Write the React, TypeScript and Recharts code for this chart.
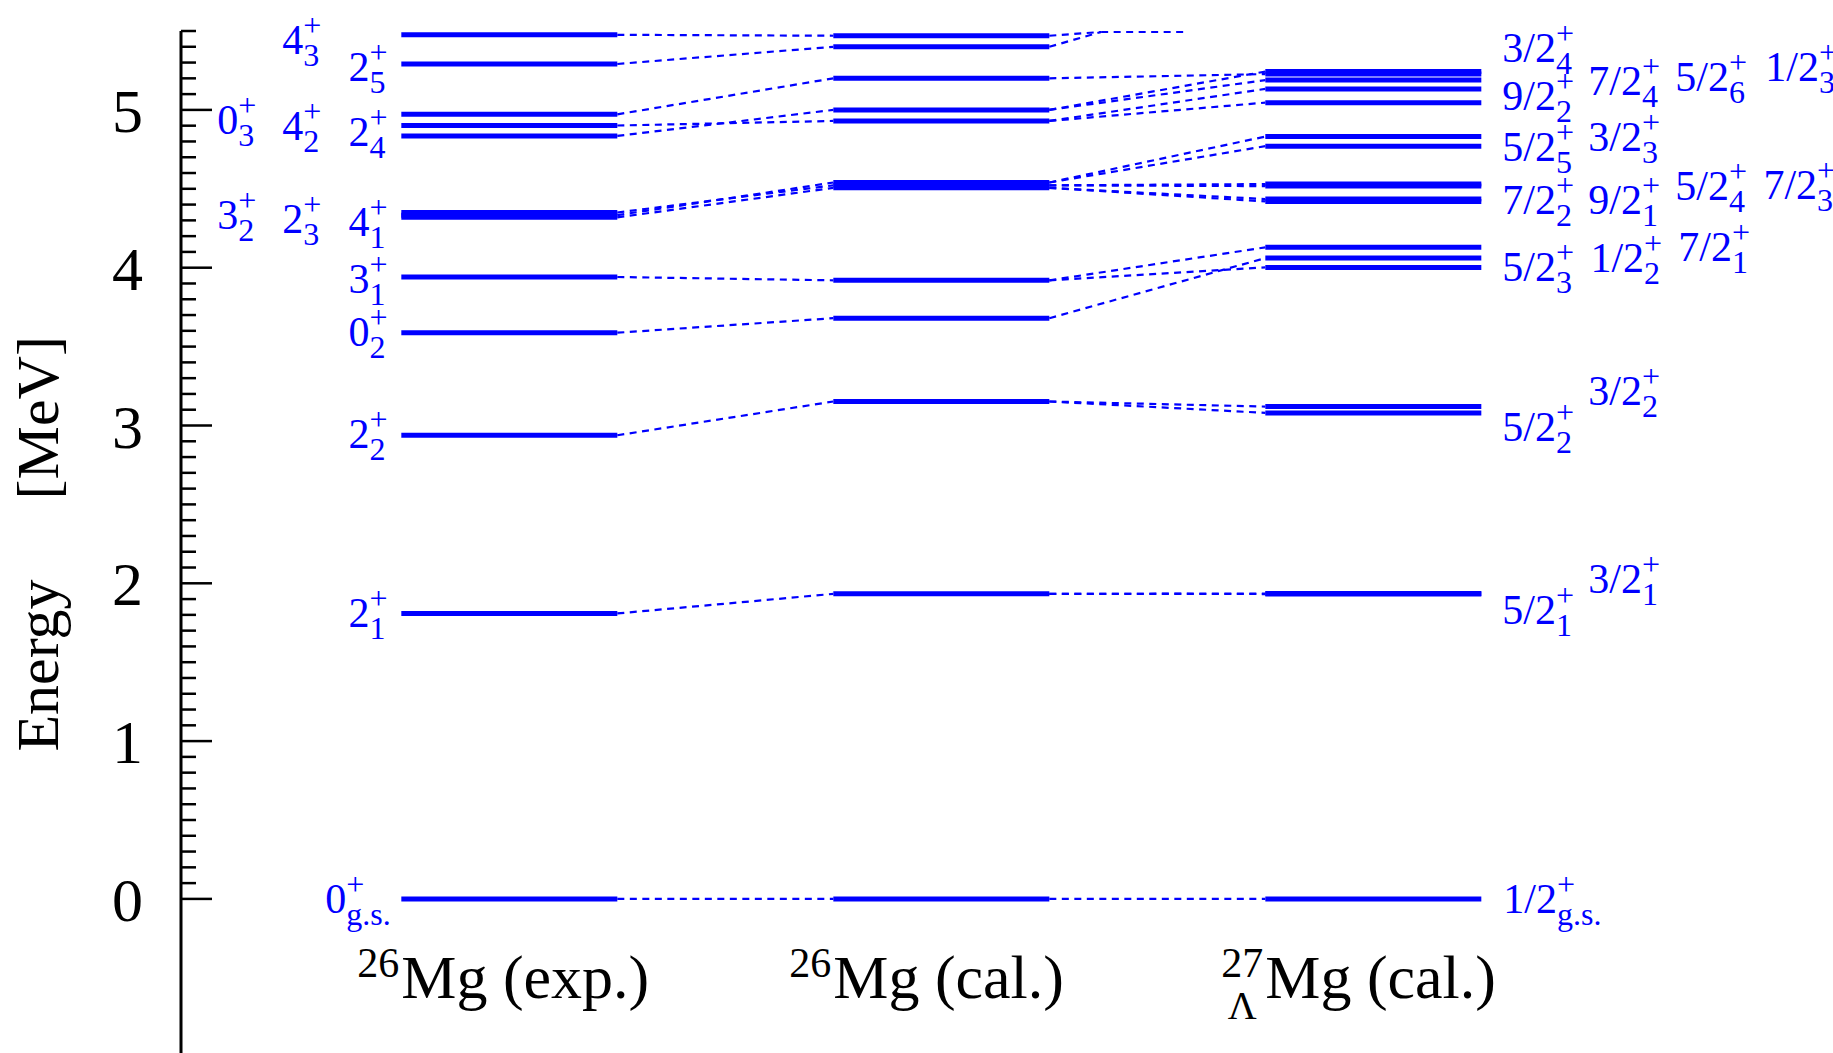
import { LineChart, Line, XAxis, YAxis, ReferenceLine, ReferenceDot } from 'recharts';

const BLUE = '#0000ff';
const SERIF = '"Liberation Serif", "Times New Roman", Times, serif';

type Level = [string, number];

// 26Mg measured levels, MeV
const EXP_26MG: Level[] = [
  ['0gs', 0], ['2_1', 1.809], ['2_2', 2.938], ['0_2', 3.588], ['3_1', 3.941],
  ['4_1', 4.319], ['2_3', 4.333], ['3_2', 4.35], ['2_4', 4.835], ['4_2', 4.901],
  ['0_3', 4.972], ['2_5', 5.291], ['4_3', 5.476],
];

// 26Mg calculated levels, MeV
const CAL_26MG: Level[] = [
  ['0gs', 0], ['2_1', 1.933], ['2_2', 3.152], ['0_2', 3.68], ['3_1', 3.92],
  ['4_1', 4.506], ['3_2', 4.522], ['2_3', 4.54], ['4_2', 4.93], ['2_4', 5.0],
  ['0_3', 5.2], ['2_5', 5.4], ['4_3', 5.47],
];

// 27-Lambda-Mg calculated levels, MeV
const CAL_27MG: Level[] = [
  ['1/2_gs', 0], ['5/2_1', 1.932], ['3/2_1', 1.935], ['5/2_2', 3.08], ['3/2_2', 3.12],
  ['5/2_3', 4.002], ['1/2_2', 4.061], ['7/2_1', 4.129], ['7/2_2', 4.42], ['9/2_1', 4.435],
  ['5/2_4', 4.517], ['7/2_3', 4.53], ['5/2_5', 4.77], ['3/2_3', 4.831], ['9/2_2', 5.046],
  ['7/2_4', 5.133], ['5/2_6', 5.189], ['1/2_3', 5.227], ['3/2_4', 5.243],
];

// core state -> hypernuclear state it feeds
const CAL_TO_HYP: [string, string][] = [
  ['0gs', '1/2_gs'], ['2_1', '5/2_1'], ['2_1', '3/2_1'], ['2_2', '5/2_2'], ['2_2', '3/2_2'],
  ['0_2', '1/2_2'], ['3_1', '5/2_3'], ['3_1', '7/2_1'], ['4_1', '7/2_2'], ['4_1', '9/2_1'],
  ['3_2', '5/2_4'], ['3_2', '7/2_3'], ['2_3', '5/2_5'], ['2_3', '3/2_3'], ['4_2', '9/2_2'],
  ['4_2', '7/2_4'], ['2_4', '5/2_6'], ['2_4', '3/2_4'], ['0_3', '1/2_3'],
];

// partners of these cores sit above the frame; their connectors run along the top
const OFFSCALE_CORES = ['2_5', '4_3'];
const OFFSCALE_RUN = [3.24, 3.62];
const OFFSCALE_E = 5.494;

const Y_TICKS = [0, 1, 2, 3, 4, 5];

const COLUMNS = [
  { pre: '26', below: '', name: 'Mg (exp.)' },
  { pre: '26', below: '', name: 'Mg (cal.)' },
  { pre: '27', below: 'Λ', name: 'Mg (cal.)' },
];

// spin labels: [J, index, x, energy the label is centred on]
const EXP_LABELS: [string, string, number, number][] = [
  ['4', '3', -0.551, 5.444], ['2', '5', -0.245, 5.27], ['0', '3', -0.852, 4.937],
  ['4', '2', -0.551, 4.899], ['2', '4', -0.245, 4.857], ['3', '2', -0.852, 4.333],
  ['2', '3', -0.551, 4.309], ['4', '1', -0.245, 4.287], ['3', '1', -0.245, 3.929],
  ['0', '2', -0.245, 3.595], ['2', '2', -0.245, 2.947], ['2', '1', -0.245, 1.812],
  ['0', 'g.s.', -0.352, 0],
];

const HYP_LABELS: [string, string, number, number][] = [
  ['3/2', '4', 5.097, 5.393], ['9/2', '2', 5.097, 5.09], ['7/2', '4', 5.495, 5.18],
  ['5/2', '6', 5.898, 5.21], ['1/2', '3', 6.315, 5.27], ['5/2', '5', 5.097, 4.766],
  ['3/2', '3', 5.495, 4.83], ['7/2', '2', 5.097, 4.43], ['9/2', '1', 5.495, 4.43],
  ['5/2', '4', 5.898, 4.52], ['7/2', '3', 6.306, 4.525], ['5/2', '3', 5.097, 4.005],
  ['1/2', '2', 5.505, 4.06], ['7/2', '1', 5.912, 4.13], ['5/2', '2', 5.097, 2.99],
  ['3/2', '2', 5.495, 3.22], ['5/2', '1', 5.097, 1.83], ['3/2', '1', 5.495, 2.03],
  ['1/2', 'g.s.', 5.102, 0],
];

const Y_MIN = -1;
const Y_MAX = 5.5;
const X_MIN = -1.02;
const X_MAX = 6.5;
const TITLE_E = -0.627;
const MAJOR_LEN = 0.1435;
const MINOR_LEN = 0.0694;

const energyOf = (levels: Level[], id: string) => levels.find((l) => l[0] === id)![1];

function SpinLabel({ cx, cy, j, sub }: { cx: number; cy: number; j: string; sub: string }) {
  return (
    <text x={cx} y={cy + 14} fill={BLUE} fontSize={42} fontFamily={SERIF}>
      {j}
      <tspan fontSize={32} dy={-18}>+</tspan>
      <tspan fontSize={32} dx={-18.05} dy={30}>{sub}</tspan>
    </text>
  );
}

function ColumnTitle({ cx, cy, pre, below, name }: { cx: number; cy: number; pre: string; below: string; name: string }) {
  return (
    <g fontFamily={SERIF} fill="#000">
      <text x={cx - 2} y={cy - 21} fontSize={42} textAnchor="end">{pre}</text>
      {below && (
        <text x={cx - 23} y={cy + 21} fontSize={40} textAnchor="middle">{below}</text>
      )}
      <text x={cx} y={cy} fontSize={62}>{name}</text>
    </g>
  );
}

function AxisTitle(props: any) {
  const vb = props.viewBox;
  return (
    <text
      transform={`translate(${vb.x + 58}, ${vb.y + vb.height / 2}) rotate(-90)`}
      textAnchor="middle"
      fontSize={60}
      fontFamily={SERIF}
      fill="#000"
    >
      Energy<tspan dx={80}>[MeV]</tspan>
    </text>
  );
}

function seg(key: string, x1: number, y1: number, x2: number, y2: number, dashed: boolean) {
  return (
    <Line
      key={key}
      data={[{ x: x1, y: y1 }, { x: x2, y: y2 }]}
      dataKey="y"
      stroke={BLUE}
      strokeWidth={dashed ? 2.2 : 5}
      strokeDasharray={dashed ? '7 5.5' : undefined}
      dot={false}
      activeDot={false}
      legendType="none"
      isAnimationActive={false}
    />
  );
}

export default function App() {
  const columns = [EXP_26MG, CAL_26MG, CAL_27MG];

  const minorTicks: number[] = [];
  for (let i = 1; i <= 55; i++) if (i % 10 !== 0) minorTicks.push(i / 10);

  const links = [
    ...EXP_26MG.map(([id, e]) => seg(`a-${id}`, 1, e, 2, energyOf(CAL_26MG, id), true)),
    ...CAL_TO_HYP.map(([c, h]) =>
      seg(`b-${c}-${h}`, 3, energyOf(CAL_26MG, c), 4, energyOf(CAL_27MG, h), true)
    ),
    ...OFFSCALE_CORES.map((c) =>
      seg(`c-${c}`, 3, energyOf(CAL_26MG, c), OFFSCALE_RUN[0], OFFSCALE_E, true)
    ),
    seg('c-run', OFFSCALE_RUN[0], OFFSCALE_E, OFFSCALE_RUN[1], OFFSCALE_E, true),
  ];

  const levels = columns.flatMap((lv, c) =>
    lv.map(([id, e]) => seg(`l-${c}-${id}`, 2 * c, e, 2 * c + 1, e, false))
  );

  return (
    <div style={{ position: 'absolute', left: 0, top: 0, width: 1833, height: 1053, overflow: 'hidden', background: '#fff' }}>
      <LineChart width={1833} height={1062} margin={{ top: 31, right: 27.68, bottom: 5.3, left: 0 }}>
        <XAxis type="number" dataKey="x" domain={[X_MIN, X_MAX]} allowDataOverflow hide />
        <YAxis
          type="number"
          domain={[Y_MIN, Y_MAX]}
          ticks={Y_TICKS}
          interval={0}
          allowDataOverflow
          width={181}
          axisLine={{ stroke: '#000', strokeWidth: 3 }}
          tickLine={false}
          tickSize={0}
          tickMargin={38}
          tick={{ fontSize: 62, fill: '#000', fontFamily: SERIF }}
          label={<AxisTitle />}
        />
        {Y_TICKS.map((t) => (
          <ReferenceLine
            key={`M${t}`}
            segment={[{ x: X_MIN, y: t }, { x: X_MIN + MAJOR_LEN, y: t }]}
            stroke="#000"
            strokeWidth={2.5}
          />
        ))}
        {minorTicks.map((t) => (
          <ReferenceLine
            key={`m${t}`}
            segment={[{ x: X_MIN, y: t }, { x: X_MIN + MINOR_LEN, y: t }]}
            stroke="#000"
            strokeWidth={2.5}
          />
        ))}
        {links}
        {levels}
        {EXP_LABELS.concat(HYP_LABELS).map(([j, sub, x, e]) => (
          <ReferenceDot
            key={`t-${j}-${sub}-${x}`}
            x={x}
            y={e}
            r={0}
            shape={(p: any) => <SpinLabel cx={p.cx} cy={p.cy} j={j} sub={sub} />}
          />
        ))}
        {COLUMNS.map((col, c) => (
          <ReferenceDot
            key={`col${c}`}
            x={2 * c}
            y={TITLE_E}
            r={0}
            shape={(p: any) => <ColumnTitle cx={p.cx} cy={p.cy} {...col} />}
          />
        ))}
      </LineChart>
    </div>
  );
}
